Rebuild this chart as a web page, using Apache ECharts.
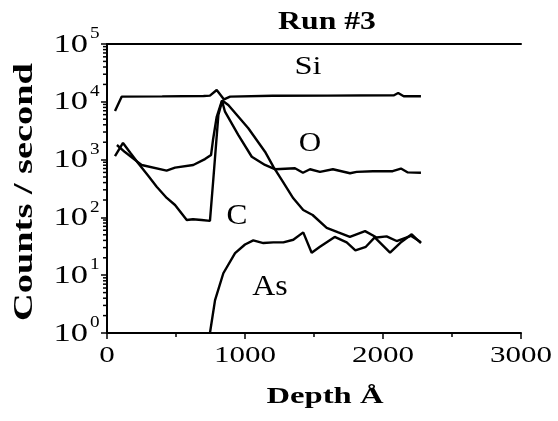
<!DOCTYPE html>
<html>
<head>
<meta charset="utf-8">
<script src="https://cdn.jsdelivr.net/npm/echarts@6/dist/echarts.min.js"></script>
<style>html,body{margin:0;padding:0;background:#fff}#c{width:558px;height:421px}</style>
</head>
<body>
<div id="c"></div>
<script>
// ---- data (depth in Å, counts / second) ----
const siDepth  = [58, 107, 400, 700, 746, 795, 848, 892, 1200, 1600, 2080, 2110, 2150, 2275];
const siCounts = [6900, 12300, 12400, 12600, 12800, 16000, 11000, 12300, 12700, 12800, 13000, 14200, 12500, 12500];

const oDepth  = [72, 130, 200, 251, 432, 493, 625, 710, 754, 768, 795, 833, 855, 951, 1049, 1145, 1220, 1362, 1420, 1471, 1543, 1637, 1761, 1809, 1927, 2070, 2130, 2180, 2275];
const oCounts = [1790, 1350, 1000, 807, 645, 725, 807, 1020, 1200, 2180, 5500, 10500, 6740, 2670, 1120, 807, 680, 707, 593, 680, 613, 680, 580, 613, 630, 630, 700, 600, 593];

const cDepth  = [58, 116, 170, 225, 300, 360, 433, 493, 578, 623, 686, 746, 770, 807, 835, 879, 1024, 1145, 1205, 1266, 1350, 1422, 1490, 1592, 1676, 1760, 1870, 1954, 2026, 2099, 2202, 2275];
const cCounts = [1150, 1940, 1300, 870, 520, 340, 217, 164, 90, 93, 90, 87, 444, 5900, 10500, 8800, 3480, 1370, 754, 444, 214, 134, 110, 66, 55, 46, 58, 45, 47, 39, 48, 37];

const asDepth  = [746, 783, 843, 928, 1000, 1060, 1133, 1205, 1278, 1350, 1422, 1483, 1543, 1650, 1737, 1800, 1876, 1940, 2051, 2135, 2208, 2275];
const asCounts = [1, 3.7, 10.8, 24, 34, 40, 36, 37, 37, 41, 55, 24.5, 31, 46, 37, 27, 31, 45, 24.5, 38, 51, 36];

// ---- tick labels ----
const xTicks = [0, 1000, 2000, 3000];
const yTicks = [1, 10, 100, 1000, 10000, 100000];
const yTickExp = ['0', '1', '2', '3', '4', '5'];
const yMinorTicks = [];
for (let d = 0; d < 5; d++) for (let m = 2; m <= 9; m++) yMinorTicks.push(m * Math.pow(10, d));

const serif = '"Liberation Serif", "Times New Roman", serif';
const pair = (xs, ys) => xs.map((x, i) => [x, ys[i]]);

function lineSeries(name, xs, ys) {
  return {
    name, type: 'line', data: pair(xs, ys), showSymbol: false, symbol: 'none',
    lineStyle: { color: '#000', width: 2.4 }, silent: true, animation: false, z: 3
  };
}

const chart = echarts.init(document.getElementById('c'), null, { renderer: 'canvas' });
chart.setOption({
  backgroundColor: '#fff',
  animation: false,
  grid: { left: 107, right: 37, top: 44, bottom: 88, outerBoundsMode: 'none', containLabel: false },
  xAxis: [{
    type: 'value', min: 0, max: 3000, interval: 1000,
    axisLine: { show: true, lineStyle: { color: '#000', width: 2 } },
    axisTick: { show: true, length: 6, lineStyle: { color: '#000', width: 1.5 } },
    minorTick: { show: true, splitNumber: 2, length: 4, lineStyle: { color: '#000', width: 1.5 } },
    axisLabel: { show: false }, splitLine: { show: false }
  }, {
    type: 'value', min: 0, max: 3000, position: 'top',
    axisLine: { show: true, onZero: false, lineStyle: { color: '#000', width: 2 } },
    axisTick: { show: false }, axisLabel: { show: false }, splitLine: { show: false }
  }],
  yAxis: {
    type: 'log', logBase: 10, min: 1, max: 100000,
    axisLine: { show: true, lineStyle: { color: '#000', width: 2 } },
    axisTick: { show: true, length: 6, lineStyle: { color: '#000', width: 1.5 } },
    axisLabel: { show: false }, splitLine: { show: false }
  },
  series: [
    lineSeries('Si', siDepth, siCounts),
    lineSeries('O', oDepth, oCounts),
    lineSeries('C', cDepth, cCounts),
    lineSeries('As', asDepth, asCounts),
    { // x tick labels
      type: 'custom', clip: false, silent: true, z: 5,
      data: xTicks.map(v => [v, 1]),
      renderItem: (params, api) => {
        const p = api.coord([api.value(0), api.value(1)]);
        return { type: 'text', x: p[0], y: p[1] + 23, scaleX: 1.35,
          style: { text: String(api.value(0)), font: '23px ' + serif, fill: '#000',
                   align: 'center', verticalAlign: 'middle', textAlign: 'center', textVerticalAlign: 'middle' } };
      }
    },
    { // y tick labels 10^n
      type: 'custom', clip: false, silent: true, z: 5,
      data: yTicks.map((v, i) => [0, v, i]),
      renderItem: (params, api) => {
        const p = api.coord([api.value(0), api.value(1)]);
        const exp = yTickExp[api.value(2)];
        return { type: 'group', children: [
          { type: 'text', x: p[0] - 19, y: p[1] + 1, scaleX: 1.38,
            style: { text: '10', font: '25px ' + serif, fill: '#000', align: 'right', verticalAlign: 'middle',
                     textAlign: 'right', textVerticalAlign: 'middle' } },
          { type: 'text', x: p[0] - 17, y: p[1] - 10, scaleX: 1.2,
            style: { text: exp, font: '16px ' + serif, fill: '#000', align: 'left', verticalAlign: 'middle',
                     textAlign: 'left', textVerticalAlign: 'middle' } }
        ] };
      }
    },
    { // y minor ticks (log)
      type: 'custom', clip: false, silent: true, z: 4,
      data: yMinorTicks.map(v => [0, v]),
      renderItem: (params, api) => {
        const p = api.coord([api.value(0), api.value(1)]);
        return { type: 'line', shape: { x1: p[0] - 4, y1: p[1], x2: p[0], y2: p[1] },
                 style: { stroke: '#000', lineWidth: 1.5 } };
      }
    }
  ],
  graphic: [
    { type: 'text', x: 327, y: 22, scaleX: 1.22,
      style: { text: 'Run #3', font: 'bold 26px ' + serif, fill: '#000', align: 'center', verticalAlign: 'middle',
               textAlign: 'center', textVerticalAlign: 'middle' } },
    { type: 'text', x: 325, y: 397, scaleX: 1.36,
      style: { text: 'Depth Å', font: 'bold 24px ' + serif, fill: '#000', align: 'center', verticalAlign: 'middle',
               textAlign: 'center', textVerticalAlign: 'middle' } },
    { type: 'text', x: 25, y: 192, rotation: Math.PI / 2, scaleX: 1.42,
      style: { text: 'Counts / second', font: 'bold 27px ' + serif, fill: '#000', align: 'center', verticalAlign: 'middle',
               textAlign: 'center', textVerticalAlign: 'middle' } },
    { type: 'text', x: 308, y: 67, scaleX: 1.3,
      style: { text: 'Si', font: '25px ' + serif, fill: '#000', align: 'center', verticalAlign: 'middle',
               textAlign: 'center', textVerticalAlign: 'middle' } },
    { type: 'text', x: 310, y: 144, scaleX: 1.15,
      style: { text: 'O', font: '27px ' + serif, fill: '#000', align: 'center', verticalAlign: 'middle',
               textAlign: 'center', textVerticalAlign: 'middle' } },
    { type: 'text', x: 237, y: 216, scaleX: 1.08,
      style: { text: 'C', font: '29px ' + serif, fill: '#000', align: 'center', verticalAlign: 'middle',
               textAlign: 'center', textVerticalAlign: 'middle' } },
    { type: 'text', x: 270, y: 287, scaleX: 1.1,
      style: { text: 'As', font: '29px ' + serif, fill: '#000', align: 'center', verticalAlign: 'middle',
               textAlign: 'center', textVerticalAlign: 'middle' } }
  ]
});
</script>
</body>
</html>
